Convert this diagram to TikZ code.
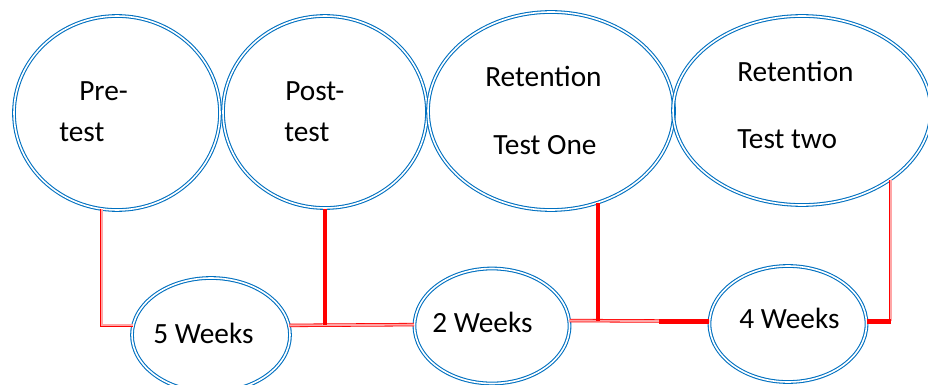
\documentclass[tikz,border=0pt]{standalone}
\usepackage{fontspec}
\setmainfont{Carlito}
\usetikzlibrary{shapes.geometric,calc}
\definecolor{ringblue}{RGB}{0,112,192}
\begin{document}
\begin{tikzpicture}[x=0.75pt, y=-0.75pt,
  every node/.style={font=\fontsize{22}{26}\selectfont},
  ring/.style={ellipse, draw=ringblue, line width=0.8pt, double=white, double distance=1.2pt, inner sep=0pt},
  word/.style={anchor=base west, inner sep=0pt},
  thinlink/.style={draw=red, line width=0.6pt, double=red!35, double distance=1.4pt},
  thicklink/.style={draw=red, line width=3.4pt}]
  \useasboundingbox (0,0) rectangle (928,385);
  % Tests
  \node[ring, minimum width=154.5pt, minimum height=145.5pt] (pre) at (117,113) {};
  \node[ring, minimum width=153pt, minimum height=144pt] (post) at (325,112) {};
  \node[ring, minimum width=184.5pt, minimum height=148.5pt] (retone) at (551,111) {};
  \node[ring, minimum width=193.5pt, minimum height=141.75pt] (rettwo) at (802,110.5) {};
  % Intervals
  \node[ring, minimum width=118.5pt, minimum height=85.5pt] (wk5) at (211,335) {};
  \node[ring, minimum width=116.25pt, minimum height=86.25pt] (wk2) at (492,326) {};
  \node[ring, minimum width=117.75pt, minimum height=87pt] (wk4) at (788,324) {};
  % Labels
  \node[word] (pretxt) at (79,101) {Pre-};
  \node[word] (pretxtb) at (59,141) {test};
  \node[word] (posttxt) at (285,100) {Post-};
  \node[word] (posttxtb) at (284,141) {test};
  \node[word] (retonetxt) at (485,87) {Retention};
  \node[word] (retonetxtb) at (493,154) {Test One};
  \node[word] (rettwotxt) at (737,82) {Retention};
  \node[word] (rettwotxtb) at (737,148) {Test two};
  \node[word] (wk5txt) at (153,343) {5 Weeks};
  \node[word] (wk2txt) at (432,332) {2 Weeks};
  \node[word] (wk4txt) at (739,328) {4 Weeks};
  % Links
  \draw[thinlink] (pre.-99) |- (wk5.173);
  \draw[thinlink] (wk5.7) -- (wk2.179);
  \draw[thicklink] (post.south) -- (post.south |- wk2.179);
  \draw[thinlink] (wk2.4) -- (wk4.178);
  \coordinate (brk) at ($(wk4.178)+(-50,0)$);
  \draw[thicklink] (brk) -- (wk4.178);
  \draw[thicklink] (retone.-63) -- (retone.-63 |- wk2.4);
  \draw[thinlink] (rettwo.-38) -- (rettwo.-38 |- wk4.2);
  \draw[thicklink] (wk4.2) -- (rettwo.-38 |- wk4.2);
\end{tikzpicture}
\end{document}
